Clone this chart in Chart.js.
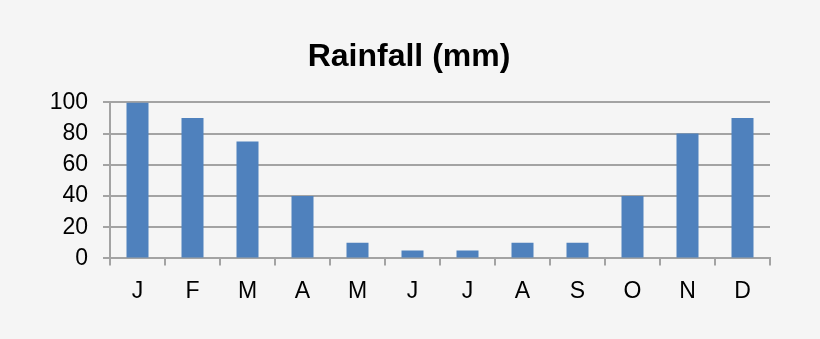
<!DOCTYPE html>
<html>
<head>
<meta charset="utf-8">
<script src="https://cdn.jsdelivr.net/npm/chart.js@4"></script>
<style>
  html, body { margin: 0; padding: 0; background: #f5f5f5; }
  #wrap { width: 820px; height: 339px; }
</style>
</head>
<body>
<div id="wrap"><canvas id="chartRain"></canvas></div>
<script>
const months = ["J", "F", "M", "A", "M", "J", "J", "A", "S", "O", "N", "D"];
const rainfall = [100, 90, 75, 40, 10, 5, 5, 10, 10, 40, 80, 90];
const yTicks = [0, 20, 40, 60, 80, 100];

const gridColor = "#a3a3a3";
const font = "'Liberation Sans', Arial, sans-serif";

const ctx = document.getElementById("chartRain");
new Chart(ctx, {
    type: 'bar',
    data: {
        labels: months,
        datasets: [{
            label: 'Rainfall (mm)',
            data: rainfall,
            backgroundColor: "#4f81bd",
            borderWidth: 0,
            categoryPercentage: 1,
            barPercentage: 0.4
        }]
    },
    options: {
        responsive: true,
        maintainAspectRatio: false,
        animation: false,
        layout: {
            // left padding nudges the title to the right like the original
            padding: { top: 0, right: 50, bottom: 22, left: 48 }
        },
        plugins: {
            legend: { display: false },
            tooltip: { enabled: false },
            title: {
                display: true,
                text: 'Rainfall (mm)',
                color: "#000",
                font: { family: font, size: 32, weight: 'bold' },
                padding: { top: 38, bottom: 26 }
            }
        },
        scales: {
            x: {
                grid: {
                    drawOnChartArea: false,
                    drawTicks: true,
                    tickLength: 7,
                    color: gridColor,
                    lineWidth: 2
                },
                border: { color: gridColor, width: 2 },
                ticks: {
                    color: "#000",
                    padding: 12,
                    autoSkip: false,
                    maxRotation: 0,
                    font: { family: font, size: 23 }
                }
            },
            y: {
                min: 0,
                max: 100,
                afterBuildTicks: scale => {
                    scale.ticks = yTicks.map(v => ({ value: v }));
                },
                afterFit: scale => {
                    scale.width = 62;
                },
                grid: {
                    color: gridColor,
                    lineWidth: 2,
                    tickLength: 7
                },
                border: { color: gridColor, width: 2 },
                ticks: {
                    color: "#000",
                    padding: 15,
                    autoSkip: false,
                    font: { family: font, size: 23 }
                }
            }
        }
    }
});
</script>
</body>
</html>
